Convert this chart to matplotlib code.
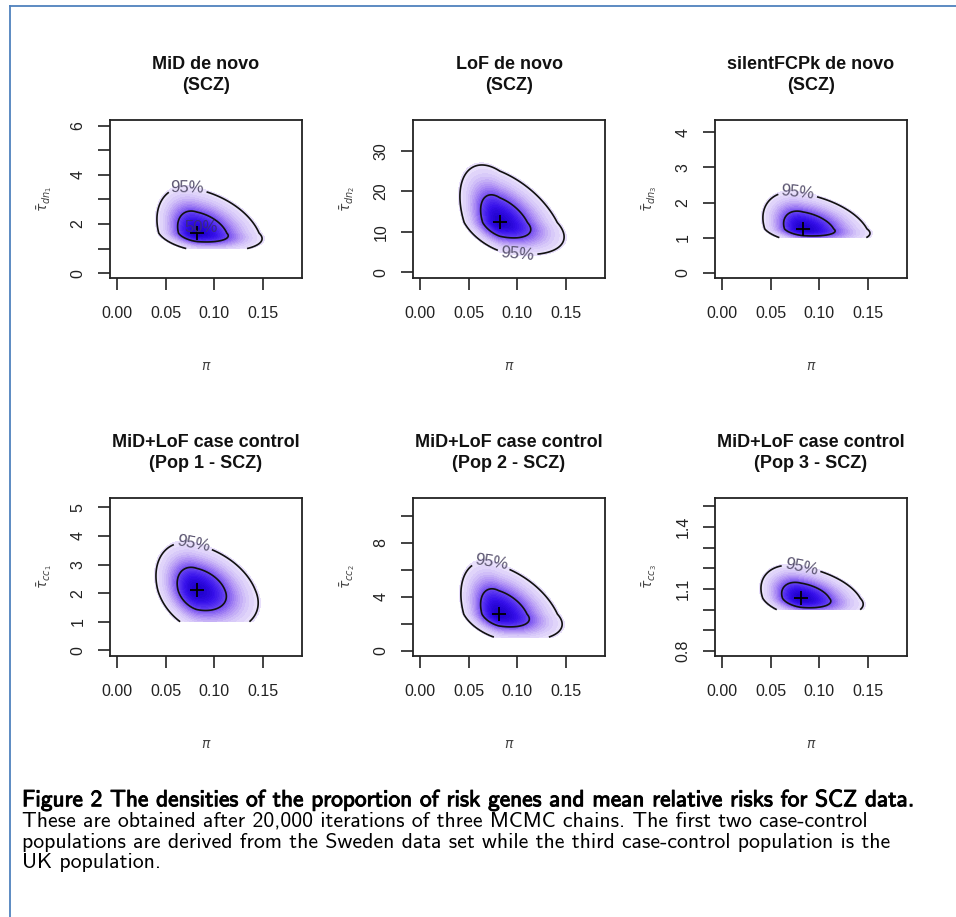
import numpy as np
import matplotlib
matplotlib.use('Agg')
import matplotlib.pyplot as plt
from matplotlib.colors import LinearSegmentedColormap
from matplotlib.lines import Line2D
import matplotlib.patheffects as pe

plt.rcParams['font.family'] = ['Liberation Sans', 'DejaVu Sans']
plt.rcParams['mathtext.fontset'] = 'dejavusans'

titles = ['MiD de novo\n(SCZ)', 'LoF de novo\n(SCZ)', 'silentFCPk de novo\n(SCZ)',
          'MiD+LoF case control\n(Pop 1 - SCZ)', 'MiD+LoF case control\n(Pop 2 - SCZ)',
          'MiD+LoF case control\n(Pop 3 - SCZ)']
ylabels = [r'$\bar{\tau}_{dn_1}$', r'$\bar{\tau}_{dn_2}$', r'$\bar{\tau}_{dn_3}$',
           r'$\bar{\tau}_{cc_1}$', r'$\bar{\tau}_{cc_2}$', r'$\bar{\tau}_{cc_3}$']

# posterior summaries: mode, 95% region extents, tilt
pi_mode = [0.082, 0.082, 0.083, 0.082, 0.081, 0.081]
pi_lo95 = [0.041, 0.041, 0.042, 0.040, 0.042, 0.040]
pi_hi95 = [0.149, 0.148, 0.152, 0.145, 0.146, 0.145]
tau_mode = [1.63, 12.3, 1.25, 2.1, 2.7, 1.055]
tau_lo95 = [0.88, 4.4, 0.83, 0.63, 0.74, 0.96]
tau_hi95 = [3.5, 26.5, 2.3, 3.77, 6.6, 1.215]
rho = [-0.3, -0.45, -0.3, -0.3, -0.38, -0.3]
tau_floor = 1.0

# where the "95%" label sits on each outer contour
lab95 = [(0.072, 3.4), (0.100, 4.4), (0.078, 2.3), (0.078, 3.7), (0.072, 6.3), (0.082, 1.215)]

xticks = [0.0, 0.05, 0.10, 0.15]
xtick_labels = ['0.00', '0.05', '0.10', '0.15']
yticks = [[0, 1, 2, 3, 4, 5, 6], [0, 10, 20, 30], [0, 1, 2, 3, 4], [0, 1, 2, 3, 4, 5],
          [0, 2, 4, 6, 8, 10], [0.8, 0.9, 1.0, 1.1, 1.2, 1.3, 1.4, 1.5]]
ytick_labels = [['0', '', '2', '', '4', '', '6'], ['0', '10', '20', '30'],
                ['0', '1', '2', '3', '4'], ['0', '1', '2', '3', '4', '5'],
                ['0', '', '4', '', '8', ''], ['0.8', '', '', '1.1', '', '', '1.4', '']]
ylims = [(-0.2, 6.24), (-1.4, 37.6), (-0.15, 4.35), (-0.2, 5.33), (-0.4, 11.3), (0.776, 1.54)]
xlim = (-0.0072, 0.19)

cmap = LinearSegmentedColormap.from_list(
    'pur', [(0.0, '#ece4fb'), (0.12, '#d4c4f8'), (0.28, '#ad8ef4'), (0.45, '#7c56f1'),
            (0.62, '#5430ef'), (0.8, '#3610ea'), (1.0, '#2000cc')])

W, H = 956, 917
fig = plt.figure(figsize=(W / 100, H / 100), dpi=100)

col_left = [110, 413, 715]
row_top = [120, 498]
aw, ah = 192, 158

R95 = -2 * np.log(0.05)

for i in range(6):
    r, c = divmod(i, 3)
    ax = fig.add_axes([col_left[c] / W, 1 - (row_top[r] + ah) / H, aw / W, ah / H])

    # density surface built from the read-off summaries
    px = np.linspace(0.0, 0.19, 300)
    ty = np.linspace(tau_floor, ylims[i][1], 300)
    X, Y = np.meshgrid(px, ty)
    sl = (pi_mode[i] - pi_lo95[i]) / np.sqrt(R95)
    sr = (pi_hi95[i] - pi_mode[i]) / np.sqrt(R95)
    sd = (tau_mode[i] - tau_lo95[i]) / np.sqrt(R95)
    su = (tau_hi95[i] - tau_mode[i]) / np.sqrt(R95)
    zx = np.where(X < pi_mode[i], (X - pi_mode[i]) / sl, (X - pi_mode[i]) / sr)
    zy = np.where(Y < tau_mode[i], (Y - tau_mode[i]) / sd, (Y - tau_mode[i]) / su)
    p = rho[i]
    d2 = (zx ** 2 - 2 * p * zx * zy + zy ** 2) / (1 - p ** 2)
    dens = np.exp(-d2 / 2)

    ax.contourf(X, Y, dens, levels=np.linspace(0.04, 1.0, 26), cmap=cmap)
    cs95 = ax.contour(X, Y, dens, levels=[0.05], colors='#111111', linewidths=1.2)
    ax.contour(X, Y, dens, levels=[0.5], colors='#111111', linewidths=1.2)
    ax.clabel(cs95, fmt={0.05: '95%'}, manual=[lab95[i]], inline=True,
              inline_spacing=4, fontsize=12, colors='#5a5470')
    if i == 0:
        ax.text(0.086, 1.84, '50%', ha='center', va='center', fontsize=12, color='#3a2a80')
    ax.plot(pi_mode[i], tau_mode[i], '+', color='k', ms=10, mew=1.3)

    ax.set_xlim(xlim)
    ax.set_ylim(ylims[i])
    ax.set_xticks(xticks)
    ax.set_xticklabels(xtick_labels)
    ax.set_yticks(yticks[i])
    ax.set_yticklabels(ytick_labels[i], rotation=90, va='center')
    ax.tick_params(direction='out', length=8.5, width=1.2, labelsize=11.5,
                   colors='#222222')
    ax.tick_params(axis='x', pad=12)
    ax.tick_params(axis='y', pad=9)
    for s in ax.spines.values():
        s.set_linewidth(1.3)
        s.set_color('#222222')

    ax.text(0.5, 1 + 45 / ah, titles[i], transform=ax.transAxes, ha='center',
            va='center', fontsize=13, fontweight='bold', color='#111111',
            linespacing=1.35)
    ax.text(0.5, -88 / ah, r'$\pi$', transform=ax.transAxes, ha='center',
            va='center', fontsize=10, color='#444444')
    ax.text(-65 / aw, 0.5, ylabels[i], transform=ax.transAxes, ha='center',
            va='center', rotation=90, fontsize=10, color='#444444')

# frame of the figure box
blue = '#4f81bd'
fig.add_artist(Line2D([10 / W, 1], [1 - 6 / H, 1 - 6 / H], color=blue, lw=1.3))
fig.add_artist(Line2D([10 / W, 10 / W], [0, 1 - 6 / H], color=blue, lw=1.3))

caption = ['Figure 2 The densities of the proportion of risk genes and mean relative risks for SCZ data.',
           'These are obtained after 20,000 iterations of three MCMC chains. The first two case-control',
           'populations are derived from the Sweden data set while the third case-control population is the',
           'UK population.']
cap_y = [800, 821, 842, 863]
for k, line in enumerate(caption):
    if k == 0:
        t = fig.text(22 / W, 1 - cap_y[k] / H, line, family='cmss10', fontsize=16.8,
                     ha='left', va='center', color='black')
        t.set_path_effects([pe.withStroke(linewidth=0.7, foreground='black')])
    else:
        fig.text(22 / W, 1 - cap_y[k] / H, line, family='cmss10', fontsize=15.7,
                 ha='left', va='center', color='black')

fig.savefig('out.png', dpi=100)
